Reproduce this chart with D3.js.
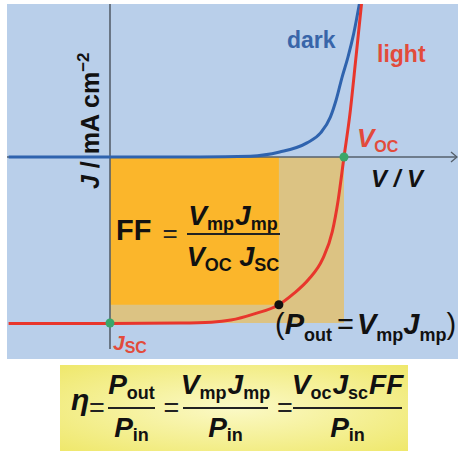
<!DOCTYPE html>
<html>
<head>
<meta charset="utf-8">
<script src="https://cdn.jsdelivr.net/npm/d3@7"></script>
<style>
  body { margin: 0; background: #fff; }
  svg text { font-family: "Liberation Sans", Arial, Helvetica, sans-serif; font-weight: bold; }
</style>
</head>
<body>
<div id="chart"></div>
<script>
// J-V curves (V in volts, J in mA cm-2)
var darkV = [-0.26, 0, 0.23, 0.36, 0.435, 0.505, 0.54, 0.565, 0.58, 0.595, 0.61, 0.625, 0.64];
var darkJ = [0, 0, 0, 0.1, 0.6, 1.7, 2.9, 4.8, 6.9, 9.6, 12.0, 14.9, 18.6];

var lightV = [-0.26, 0, 0.18, 0.26, 0.31, 0.37, 0.433, 0.47, 0.51, 0.545, 0.57, 0.585, 0.6, 0.615, 0.63, 0.645];
var lightJ = [-20.05, -20.05, -20, -19.9, -19.65, -18.9, -17.8, -16.5, -14.7, -12.3, -9.0, -5.2, 0, 5.1, 11.7, 18.5];

// characteristic points
var voc = 0.6, jsc = -20, vmp = 0.433, jmp = -17.8;

var curveLabels = ["dark", "light"];

var W = 458, H = 452;
var panel = {left: 7, top: 4, right: 458, bottom: 359};

var x = d3.scaleLinear().domain([0, voc]).range([110, 344]);
var y = d3.scaleLinear().domain([0, jsc]).range([157, 323]);

var svg = d3.select("#chart").append("svg")
	.attr("width", W)
	.attr("height", H);

var defs = svg.append("defs");
defs.append("clipPath").attr("id", "clip")
	.append("rect")
	.attr("x", panel.left).attr("y", panel.top)
	.attr("width", panel.right - panel.left).attr("height", panel.bottom - panel.top);

var grad = defs.append("radialGradient").attr("id", "boxfill")
	.attr("cx", "50%").attr("cy", "50%").attr("r", "70%");
grad.append("stop").attr("offset", "0%").attr("stop-color", "#fbf9c6");
grad.append("stop").attr("offset", "100%").attr("stop-color", "#efe86c");

// background panel
svg.append("rect")
	.attr("x", panel.left).attr("y", panel.top)
	.attr("width", panel.right - panel.left).attr("height", panel.bottom - panel.top)
	.attr("fill", "#b9cfea");

// Voc x Jsc rectangle and Vmp x Jmp rectangle
svg.append("rect")
	.attr("x", x(0)).attr("y", y(0))
	.attr("width", x(voc) - x(0)).attr("height", y(jsc) - y(0))
	.attr("fill", "#dcc383");

svg.append("rect")
	.attr("x", x(0)).attr("y", y(0))
	.attr("width", x(vmp) - x(0)).attr("height", y(jmp) - y(0))
	.attr("fill", "#fbb62b");

// axes
var axisColor = "#56606c";
svg.append("line")
	.attr("x1", x(0)).attr("x2", x(0))
	.attr("y1", panel.top).attr("y2", 349)
	.attr("stroke", axisColor).attr("stroke-width", 1.6);

svg.append("line")
	.attr("x1", panel.left).attr("x2", 457)
	.attr("y1", y(0)).attr("y2", y(0))
	.attr("stroke", axisColor).attr("stroke-width", 1.6);

svg.append("path")
	.attr("d", "M451," + (y(0) - 5) + "L457," + y(0) + "L451," + (y(0) + 5))
	.attr("fill", "none").attr("stroke", axisColor).attr("stroke-width", 1.4);

// curves
var line = d3.line()
	.x(function(d) { return x(d[0]); })
	.y(function(d) { return y(d[1]); })
	.curve(d3.curveMonotoneX);

var plot = svg.append("g").attr("clip-path", "url(#clip)");

plot.append("path")
	.datum(d3.zip(darkV, darkJ))
	.attr("d", line)
	.attr("fill", "none").attr("stroke", "#2f63ae").attr("stroke-width", 3);

plot.append("path")
	.datum(d3.zip(lightV, lightJ))
	.attr("d", line)
	.attr("fill", "none").attr("stroke", "#e8362c").attr("stroke-width", 3);

// points
[[0, jsc], [voc, 0]].forEach(function(p) {
	svg.append("circle").attr("cx", x(p[0])).attr("cy", y(p[1])).attr("r", 4.5).attr("fill", "#3aa76a");
});
svg.append("circle").attr("cx", x(vmp)).attr("cy", y(jmp)).attr("r", 4.5).attr("fill", "#111");

// math text helper: runs of [text, kind, dx, weight]; kind i = italic, r = upright, s = subscript, p = superscript
var mathText = function(parent, px, py, runs, o) {
	var main = o.size || 24, sub = o.sub || 16, shiftS = o.shift || 6;
	var t = parent.append("text")
		.attr("x", px).attr("y", py)
		.attr("text-anchor", o.anchor || "start")
		.attr("fill", o.fill || "#111");
	var shift = 0;
	runs.forEach(function(r) {
		var kind = r[1];
		var target = kind === "s" ? shiftS : kind === "p" ? -o.sup : 0;
		var ts = t.append("tspan").text(r[0])
			.attr("dy", target - shift)
			.style("font-size", (kind === "s" || kind === "p") ? sub + "px" : main + "px")
			.style("font-style", kind === "i" ? "italic" : "normal");
		if (r[2]) ts.attr("dx", r[2]);
		if (r[3]) ts.style("font-weight", r[3]);
		shift = target;
	});
	return t;
};

// curve labels
svg.append("text").attr("x", 287).attr("y", 48).attr("fill", "#3865a9")
	.style("font-size", "23px").text(curveLabels[0]);
svg.append("text").attr("x", 377).attr("y", 62).attr("fill", "#e24b3b")
	.style("font-size", "23px").text(curveLabels[1]);

mathText(svg, 357, 147, [["V", "i"], ["OC", "s"]], {size: 26, sub: 16, shift: 5, fill: "#e24b3b"});
mathText(svg, 113, 350, [["J", "i"], ["SC", "s"]], {size: 21, sub: 16, shift: 3, fill: "#e24b3b"});

// axis titles
svg.append("text").attr("x", 371).attr("y", 187)
	.style("font-size", "24px").style("font-style", "italic").attr("fill", "#111")
	.text("V / V");

mathText(svg.append("g").attr("transform", "translate(99,189) rotate(-90)"), 0, 0,
	[["J", "i"], [" / mA cm", "r"], ["\u22122", "p"]], {size: 25, sub: 17, sup: 10});

// fill factor formula
mathText(svg, 116, 240, [["FF", "r"]], {size: 29});
svg.append("text").attr("x", 170).attr("y", 242).attr("text-anchor", "middle")
	.style("font-size", "26px").style("font-weight", "normal").attr("fill", "#222").text("=");
mathText(svg, 233, 225, [["V", "i"], ["mp", "s"], ["J", "i", 1], ["mp", "s"]], {size: 28, sub: 18, shift: 5, anchor: "middle"});
svg.append("line").attr("x1", 187).attr("x2", 280).attr("y1", 234).attr("y2", 234)
	.attr("stroke", "#222").attr("stroke-width", 2);
mathText(svg, 233, 266, [["V", "i"], ["OC", "s"], [" ", "r"], ["J", "i"], ["SC", "s"]], {size: 27, sub: 18, shift: 5, anchor: "middle"});

// maximum power point label
mathText(svg, 275, 334, [["(", "r", 0, "normal"], ["P", "i"], ["out", "s"], ["=", "r", 5, "normal"], ["V", "i", 3], ["mp", "s"], ["J", "i"], ["mp", "s"], [")", "r", 0, "normal"]],
	{size: 29, sub: 18, shift: 7});

// efficiency box
svg.append("rect").attr("x", 60).attr("y", 365).attr("width", 348).attr("height", 86)
	.attr("fill", "url(#boxfill)");

var box = svg.append("g");
box.append("text").attr("x", 71).attr("y", 410).style("font-size", "30px").style("font-style", "italic")
	.attr("fill", "#111").text("\u03b7");
[97, 171.5, 285].forEach(function(cx) {
	box.append("text").attr("x", cx).attr("y", 417).attr("text-anchor", "middle")
		.style("font-size", "27px").style("font-weight", "normal").attr("fill", "#222").text("=");
});

var fracs = [
	{x1: 108, x2: 155, num: [["P", "i"], ["out", "s"]]},
	{x1: 183, x2: 268, num: [["V", "i"], ["mp", "s"], ["J", "i", 1], ["mp", "s"]]},
	{x1: 293, x2: 402, num: [["V", "i"], ["oc", "s"], ["J", "i", 1], ["sc", "s"], ["FF", "i", 1]]}
];
fracs.forEach(function(f) {
	var cx = (f.x1 + f.x2) / 2;
	mathText(box, cx, 394, f.num, {size: 28, sub: 18, shift: 5, anchor: "middle"});
	box.append("line").attr("x1", f.x1).attr("x2", f.x2).attr("y1", 408).attr("y2", 408)
		.attr("stroke", "#222").attr("stroke-width", 2);
	mathText(box, cx, 437, [["P", "i"], ["in", "s"]], {size: 28, sub: 18, shift: 4, anchor: "middle"});
});
</script>
</body>
</html>
